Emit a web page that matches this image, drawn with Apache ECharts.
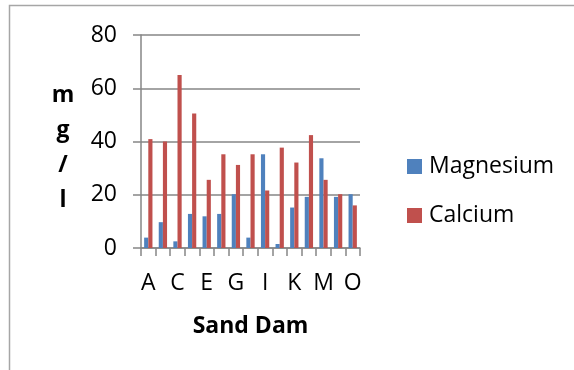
<!DOCTYPE html>
<html>
<head>
<meta charset="utf-8">
<script src="https://cdn.jsdelivr.net/npm/echarts@6/dist/echarts.min.js"></script>
<style>html,body{margin:0;padding:0;background:#fff;}#c{width:574px;height:370px;}</style>
</head>
<body>
<div id="c"></div>
<script>
const categories = ['A','B','C','D','E','F','G','H','I','J','K','L','M','N','O'];
const magnesium = [3.9, 9.7, 2.5, 12.8, 11.9, 12.8, 20.2, 3.9, 35.2, 1.5, 15.2, 19.2, 33.7, 19.2, 20.2];
const calcium = [40.9, 40.0, 65.0, 50.5, 25.6, 35.2, 31.2, 35.2, 21.6, 37.7, 32.1, 42.4, 25.6, 20.2, 16.0];
const yTicks = [0, 20, 40, 60, 80];
const yTitle = 'm\ng\n/\nl';

const FONT = '"Open Sans", sans-serif';
const chart = echarts.init(document.getElementById('c'), null, {renderer: 'canvas'});
chart.setOption({
  animation: false,
  backgroundColor: '#fff',
  textStyle: {fontFamily: FONT},
  graphic: [{
    type: 'rect', silent: true,
    shape: {x: 9.5, y: 5.5, width: 620, height: 420},
    style: {fill: 'none', stroke: '#a6a6a6', lineWidth: 1.5}
  }, {
    type: 'text', silent: true, x: 63, y: 78,
    style: {text: yTitle, fill: '#000', fontFamily: FONT, fontSize: 23, fontWeight: 'bold',
            align: 'center', verticalAlign: 'top', lineHeight: 35}
  }],
  grid: {left: 141, top: 35, right: 214, bottom: 122, containLabel: false},
  legend: {
    orient: 'vertical', left: 402, top: 150,
    itemWidth: 15, itemHeight: 15, itemGap: 26,
    icon: 'rect',
    textStyle: {fontFamily: FONT, fontSize: 23, color: '#000', padding: [0,0,0,2]},
    data: ['Magnesium', 'Calcium']
  },
  xAxis: {
    type: 'category', data: categories,
    name: 'Sand Dam', nameLocation: 'middle', nameGap: 67,
    nameTextStyle: {fontFamily: FONT, fontSize: 23, fontWeight: 'bold', color: '#000'},
    axisLine: {lineStyle: {color: '#868686', width: 1.5}},
    axisTick: {show: true, interval: 0, length: 8, lineStyle: {color: '#868686', width: 1.5}},
    axisLabel: {interval: 1, margin: 24, fontFamily: FONT, fontSize: 23, color: '#000'},
    splitLine: {show: false}
  },
  yAxis: {
    type: 'value', min: yTicks[0], max: yTicks[yTicks.length-1], interval: 20,
    axisLine: {show: true, lineStyle: {color: '#868686', width: 1.5}},
    axisTick: {show: true, length: 8, lineStyle: {color: '#868686', width: 1.5}},
    axisLabel: {margin: 24, fontFamily: FONT, fontSize: 23, color: '#000'},
    splitLine: {show: true, lineStyle: {color: '#868686', width: 1.5}}
  },
  series: [
    {name: 'Magnesium', type: 'bar', data: magnesium, itemStyle: {color: '#4F81BD'}, barGap: '0%', barCategoryGap: '43%'},
    {name: 'Calcium', type: 'bar', data: calcium, itemStyle: {color: '#C0504D'}, barGap: '0%', barCategoryGap: '43%'}
  ]
});
</script>
</body>
</html>
